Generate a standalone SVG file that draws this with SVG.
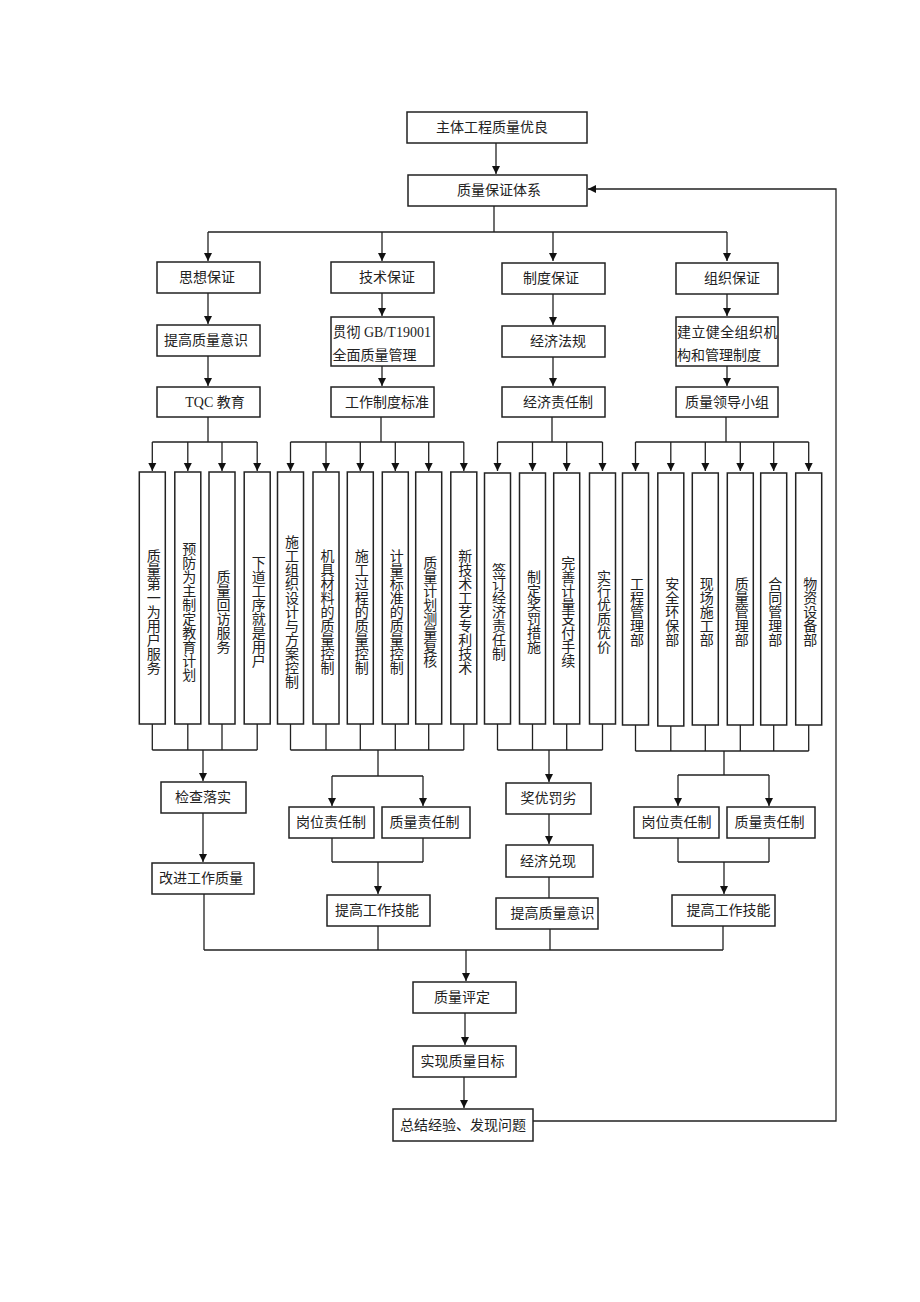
<svg xmlns="http://www.w3.org/2000/svg" width="920" height="1302" viewBox="0 0 920 1302">
<style>
.b{fill:#fff;stroke:#222;stroke-width:1.5}
.l{fill:none;stroke:#222;stroke-width:1.3}
.a{fill:none;stroke:#222;stroke-width:1.3;marker-end:url(#ah)}
text{font-family:"Liberation Serif","Noto Sans CJK SC",serif;font-size:14px;fill:#222}
.c{text-anchor:middle}
.v{writing-mode:vertical-rl;text-anchor:middle}
</style>
<defs>
<marker id="ah" markerWidth="8" markerHeight="10" refX="8" refY="5" orient="auto" markerUnits="userSpaceOnUse">
<path d="M0,1 L8,5 L0,9 Z" fill="#111"/>
</marker>
</defs>
<rect width="920" height="1302" fill="#fff"/>

<g id="connectors">
<path class="a" d="M496,143 V174"/>
<path class="l" d="M494,206 V232 M208,232 H727"/>
<path class="a" d="M208,232 V261"/>
<path class="a" d="M382,232 V261"/>
<path class="a" d="M553,232 V261"/>
<path class="a" d="M727,232 V261"/>
<path class="a" d="M208,293 V324"/>
<path class="a" d="M382,293 V316"/>
<path class="a" d="M553,294 V325"/>
<path class="a" d="M727,294 V316"/>
<path class="a" d="M208,356 V386"/>
<path class="a" d="M382,366 V386"/>
<path class="a" d="M553,357 V386"/>
<path class="a" d="M727,366 V386"/>
<path class="l" d="M208,417 V442 M152.3,442 H257.2 M381,417 V442 M290.5,442 H463.8 M552,417 V442 M497.5,442 H602.5 M726,417 V442 M635.5,442 H808.7"/>
<path class="a" d="M152.3,442 V471"/><path class="a" d="M187.8,442 V471"/><path class="a" d="M222,442 V471"/><path class="a" d="M257.2,442 V471"/>
<path class="a" d="M290.5,442 V471"/><path class="a" d="M326,442 V471"/><path class="a" d="M360.3,442 V471"/><path class="a" d="M395.3,442 V471"/><path class="a" d="M428.7,442 V471"/><path class="a" d="M463.8,442 V471"/>
<path class="a" d="M497.5,442 V471"/><path class="a" d="M532.5,442 V471"/><path class="a" d="M566.7,442 V471"/><path class="a" d="M602.5,442 V471"/>
<path class="a" d="M635.5,442 V471"/><path class="a" d="M670.8,442 V471"/><path class="a" d="M705.3,442 V471"/><path class="a" d="M740.3,442 V471"/><path class="a" d="M773.7,442 V471"/><path class="a" d="M808.7,442 V471"/>
<path class="l" d="M152.3,724 V750 M187.8,724 V750 M222,724 V750 M257.2,724 V750 M152.3,750 H257.2"/>
<path class="l" d="M290.5,724 V750 M326,724 V750 M360.3,724 V750 M395.3,724 V750 M428.7,724 V750 M463.8,724 V750 M290.5,750 H463.8"/>
<path class="l" d="M497.5,724 V750 M532.5,724 V750 M566.7,724 V750 M602.5,724 V750 M497.5,750 H602.5"/>
<path class="l" d="M635.5,724 V751 M670.8,724 V751 M705.3,724 V751 M740.3,724 V751 M773.7,724 V751 M808.7,724 V751 M635.5,751 H808.7"/>
<path class="a" d="M203,750 V781"/>
<path class="a" d="M203,813 V862"/>
<path class="l" d="M378,750 V776 M332,776 H423"/>
<path class="a" d="M332,776 V806"/>
<path class="a" d="M423,776 V806"/>
<path class="l" d="M332,838 V862 M423,838 V862 M332,862 H423"/>
<path class="a" d="M378,862 V894"/>
<path class="a" d="M549,750 V782"/>
<path class="a" d="M549,814 V844"/>
<path class="l" d="M549,877 V898"/>
<path class="l" d="M724,751 V775 M678,775 H769"/>
<path class="a" d="M678,775 V806"/>
<path class="a" d="M769,775 V806"/>
<path class="l" d="M678,838 V862 M769,838 V862 M678,862 H769"/>
<path class="a" d="M724,862 V894"/>
<path class="l" d="M204,894 V950 M378,926 V950 M550,929 V950 M723,926 V950 M204,950 H723"/>
<path class="a" d="M466,950 V981"/>
<path class="a" d="M465,1013 V1045"/>
<path class="a" d="M464,1077 V1108"/>
<path class="a" d="M533,1121 H836 V189 H588"/>
</g>

<g id="n-top"><rect class="b" x="407" y="112" width="180" height="31"/><text class="c" x="492" y="132">主体工程质量优良</text></g>
<g id="n-system"><rect class="b" x="408" y="175" width="179" height="31"/><text class="c" x="499" y="195">质量保证体系</text></g>

<g id="n-sixiang"><rect class="b" x="157" y="262" width="103" height="31"/><text class="c" x="207" y="282">思想保证</text></g>
<g id="n-jishu"><rect class="b" x="331" y="262" width="103" height="31"/><text class="c" x="387" y="282">技术保证</text></g>
<g id="n-zhidu"><rect class="b" x="502" y="263" width="103" height="31"/><text class="c" x="551" y="283">制度保证</text></g>
<g id="n-zuzhi"><rect class="b" x="676" y="263" width="102" height="31"/><text class="c" x="732" y="283">组织保证</text></g>

<g id="n-tigao1"><rect class="b" x="157" y="325" width="103" height="31"/><text class="c" x="206" y="345">提高质量意识</text></g>
<g id="n-guanche"><rect class="b" x="331" y="317" width="103" height="49"/><text x="332.5" y="337">贯彻 GB/T19001</text><text x="332.5" y="360">全面质量管理</text></g>
<g id="n-jingjifagui"><rect class="b" x="502" y="326" width="103" height="31"/><text class="c" x="558" y="346">经济法规</text></g>
<g id="n-jianli"><rect class="b" x="676" y="317" width="102" height="49"/><text x="677" y="337" letter-spacing="0.4">建立健全组织机</text><text x="677" y="360">构和管理制度</text></g>

<g id="n-tqc"><rect class="b" x="157" y="387" width="103" height="30"/><text class="c" x="215" y="407">TQC 教育</text></g>
<g id="n-gongzuo"><rect class="b" x="331" y="387" width="103" height="30"/><text class="c" x="387" y="407">工作制度标准</text></g>
<g id="n-jingjizeren"><rect class="b" x="502" y="387" width="103" height="30"/><text class="c" x="558" y="407">经济责任制</text></g>
<g id="n-lingdao"><rect class="b" x="676" y="387" width="102" height="30"/><text class="c" x="727" y="407">质量领导小组</text></g>

<g id="v1"><rect class="b" x="139.3" y="472" width="26" height="252"/><text class="v" x="152.3" y="612">质量第一为用户服务</text></g>
<g id="v2"><rect class="b" x="174.8" y="472" width="26" height="252"/><text class="v" x="187.8" y="612">预防为主制定教育计划</text></g>
<g id="v3"><rect class="b" x="209" y="472" width="26" height="252"/><text class="v" x="222" y="612">质量回访服务</text></g>
<g id="v4"><rect class="b" x="244.2" y="472" width="26" height="252"/><text class="v" x="257.2" y="612">下道工序就是用户</text></g>

<g id="v5"><rect class="b" x="277.5" y="472" width="26" height="252"/><text class="v" x="290.5" y="612">施工组织设计与方案控制</text></g>
<g id="v6"><rect class="b" x="313" y="472" width="26" height="252"/><text class="v" x="326" y="612">机具材料的质量控制</text></g>
<g id="v7"><rect class="b" x="347.3" y="472" width="26" height="252"/><text class="v" x="360.3" y="612">施工过程的质量控制</text></g>
<g id="v8"><rect class="b" x="382.3" y="472" width="26" height="252"/><text class="v" x="395.3" y="612">计量标准的质量控制</text></g>
<g id="v9"><rect class="b" x="415.7" y="472" width="26" height="252"/><text class="v" x="428.7" y="612">质量计划测量复核</text></g>
<g id="v10"><rect class="b" x="450.8" y="472" width="26" height="252"/><text class="v" x="463.8" y="612">新技术工艺专利技术</text></g>

<g id="v11"><rect class="b" x="484.5" y="473" width="26" height="251"/><text class="v" x="497.5" y="612">签订经济责任制</text></g>
<g id="v12"><rect class="b" x="519.5" y="473" width="26" height="251"/><text class="v" x="532.5" y="612">制定奖罚措施</text></g>
<g id="v13"><rect class="b" x="553.7" y="473" width="26" height="251"/><text class="v" x="566.7" y="612">完善计量支付手续</text></g>
<g id="v14"><rect class="b" x="589.5" y="473" width="26" height="251"/><text class="v" x="602.5" y="612">实行优质优价</text></g>

<g id="v15"><rect class="b" x="622.5" y="473" width="26" height="252"/><text class="v" x="635.5" y="612">工程管理部</text></g>
<g id="v16"><rect class="b" x="657.8" y="473" width="26" height="253"/><text class="v" x="670.8" y="612">安全环保部</text></g>
<g id="v17"><rect class="b" x="692.3" y="473" width="26" height="252"/><text class="v" x="705.3" y="612">现场施工部</text></g>
<g id="v18"><rect class="b" x="727.3" y="473" width="26" height="252"/><text class="v" x="740.3" y="612">质量管理部</text></g>
<g id="v19"><rect class="b" x="760.7" y="473" width="26" height="252"/><text class="v" x="773.7" y="612">合同管理部</text></g>
<g id="v20"><rect class="b" x="795.7" y="473" width="26" height="252"/><text class="v" x="808.7" y="612">物资设备部</text></g>

<g id="n-jiancha"><rect class="b" x="161" y="782" width="85" height="31"/><text class="c" x="203" y="802">检查落实</text></g>
<g id="n-gaijin"><rect class="b" x="152" y="863" width="102" height="31"/><text class="c" x="201" y="883">改进工作质量</text></g>

<g id="n-gangwei1"><rect class="b" x="289" y="807" width="85" height="31"/><text class="c" x="331" y="827">岗位责任制</text></g>
<g id="n-zhiliang1"><rect class="b" x="382" y="807" width="88" height="31"/><text class="c" x="424.5" y="827">质量责任制</text></g>
<g id="n-jineng1"><rect class="b" x="327" y="895" width="103" height="31"/><text class="c" x="377" y="915">提高工作技能</text></g>

<g id="n-jiangyou"><rect class="b" x="506" y="783" width="85" height="31"/><text class="c" x="548.5" y="803">奖优罚劣</text></g>
<g id="n-duixian"><rect class="b" x="506" y="845" width="87" height="32"/><text class="c" x="548" y="866">经济兑现</text></g>
<g id="n-tigao2"><rect class="b" x="496" y="898" width="102" height="31"/><text class="c" x="552.5" y="918">提高质量意识</text></g>

<g id="n-gangwei2"><rect class="b" x="634" y="807" width="85" height="31"/><text class="c" x="676.5" y="827">岗位责任制</text></g>
<g id="n-zhiliang2"><rect class="b" x="727" y="807" width="88" height="31"/><text class="c" x="769.5" y="827">质量责任制</text></g>
<g id="n-jineng2"><rect class="b" x="672" y="895" width="103" height="31"/><text class="c" x="728.5" y="915">提高工作技能</text></g>

<g id="n-pingding"><rect class="b" x="413" y="982" width="103" height="31"/><text class="c" x="462" y="1002">质量评定</text></g>
<g id="n-mubiao"><rect class="b" x="413" y="1046" width="103" height="31"/><text class="c" x="462.5" y="1066">实现质量目标</text></g>
<g id="n-zongjie"><rect class="b" x="393" y="1109" width="140" height="32"/><text class="c" x="463" y="1130">总结经验、发现问题</text></g>
</svg>
